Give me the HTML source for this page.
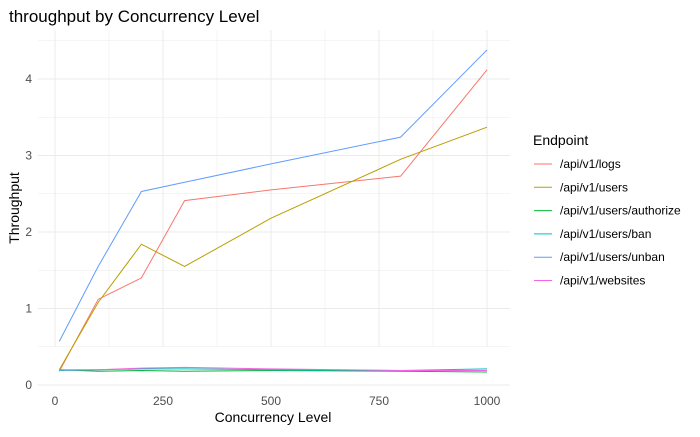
<!DOCTYPE html>
<html><head><meta charset="utf-8"><style>
body{margin:0;background:#fff;font-family:"Liberation Sans",sans-serif}
</style></head><body>
<svg id="chart" width="700" height="432" xmlns="http://www.w3.org/2000/svg" font-family="Liberation Sans, sans-serif">
<text x="9" y="22" font-size="17" fill="#000">throughput by Concurrency Level</text>
<g id="grid"></g><g id="lines"></g><g id="axes"></g>
<text x="273" y="422" font-size="14" text-anchor="middle">Concurrency Level</text>
<text transform="translate(19,208) rotate(-90)" font-size="14" text-anchor="middle">Throughput</text>
<text x="533" y="145" font-size="14">Endpoint</text>
<g id="legend"></g>
</svg>
<script>
const seriesNames=["/api/v1/logs","/api/v1/users","/api/v1/users/authorize","/api/v1/users/ban","/api/v1/users/unban","/api/v1/websites"];
const colors=["#F8766D","#B79F00","#00BA38","#00BFC4","#619CFF","#F564E3"];
const xVals=[10,100,200,300,500,800,1000];
const logs=[0.18,1.12,1.40,2.41,2.55,2.73,4.12];
const users=[0.20,1.08,1.84,1.55,2.18,2.95,3.37];
const authorize=[0.20,0.18,0.19,0.18,0.19,0.18,0.17];
const ban=[0.19,0.20,0.21,0.21,0.20,0.19,0.21];
const unban=[0.57,1.55,2.53,2.65,2.89,3.24,4.38];
const websites=[0.20,0.20,0.22,0.23,0.21,0.19,0.19];
const allSeries=[logs,users,authorize,ban,unban,websites];
const xTicks=[0,250,500,750,1000];
const yTicks=[0,1,2,3,4];
const NS="http://www.w3.org/2000/svg";
const X0=38,X1=510,Y0=385-0.6*76.5,Y1=30;
function sx(v){return 55+0.432*v;}
function sy(v){return 385-76.5*v;}
function mk(t,a,p){const e=document.createElementNS(NS,t);for(const k in a)e.setAttribute(k,a[k]);p.appendChild(e);return e;}
const grid=document.getElementById('grid');
for(let v=-125;v<=1125;v+=125){const x=sx(v);if(x<X0||x>X1)continue;
 const l=mk('line',{x1:x,x2:x,y1:Y1,y2:Y0+8,stroke:'#ebebeb','stroke-width':v%250===0?1:0.5},grid);
 
 }
for(let v=0;v<=4.5;v+=0.5){const y=sy(v);if(y<Y1)continue;
 const l=mk('line',{x1:X0,x2:X1,y1:y,y2:y,stroke:'#ebebeb','stroke-width':v%1===0?1:0.5},grid);
 
 }
const axes=document.getElementById('axes');
xTicks.forEach(v=>{const t=mk('text',{x:sx(v),y:405,'font-size':12,'text-anchor':'middle',fill:'#4d4d4d'},axes);t.textContent=v;
 
 });
yTicks.forEach(v=>{const t=mk('text',{x:32,y:sy(v)+4,'font-size':12,'text-anchor':'end',fill:'#4d4d4d'},axes);t.textContent=v;
 
 });
const lines=document.getElementById('lines');
allSeries.forEach((s,i)=>{const p=mk('polyline',{points:s.map((v,j)=>sx(xVals[j])+','+sy(v)).join(' '),fill:'none',stroke:colors[i],'stroke-width':1},lines);
 
 });
const lg=document.getElementById('legend');
seriesNames.forEach((n,i)=>{const g=mk('g',{},lg);
 
 
 const y=164+i*23.3;
 mk('line',{x1:534,x2:552,y1:y,y2:y,stroke:colors[i],'stroke-width':1},g);
 const t=mk('text',{x:560,y:y+4,'font-size':12,fill:'#000'},g);t.textContent=n;});
</script>
</body></html>
